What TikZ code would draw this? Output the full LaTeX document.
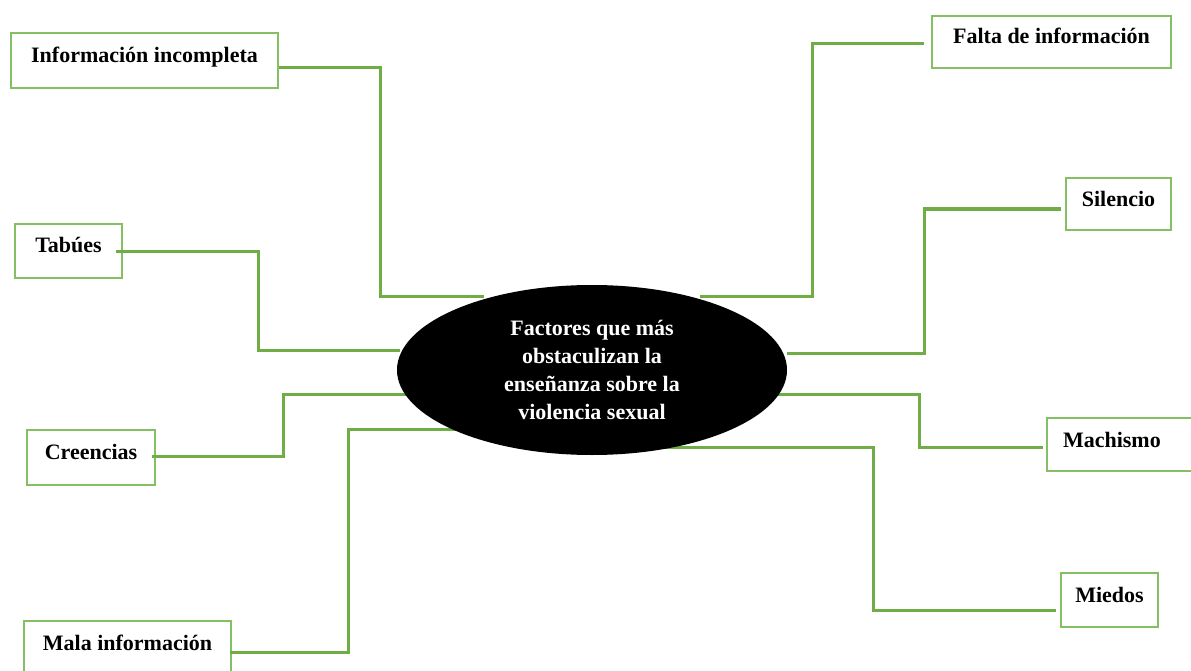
\documentclass[tikz,border=0pt]{standalone}
\usepackage{fontspec}
\setmainfont{Liberation Serif}
\usetikzlibrary{shapes.geometric}
\definecolor{connGreen}{HTML}{70AD47}
\definecolor{boxGreen}{HTML}{84BF63}
\tikzset{
  conn/.style={draw=connGreen, line width=3bp},
  itembox/.style={draw=boxGreen, line width=2bp, rectangle, inner sep=0pt,
    font=\fontsize{22bp}{28bp}\selectfont\bfseries},
  centre/.style={ellipse, fill=black, text=white, inner sep=0pt,
    minimum width=390bp, minimum height=170bp, align=center,
    font=\fontsize{22bp}{28bp}\selectfont\bfseries}
}
\begin{document}
\begin{tikzpicture}[x=1bp, y=-1bp]
\useasboundingbox (0,0) rectangle (1191,671);
% left boxes
\node[itembox, minimum width=267bp, text height=30bp, text depth=25bp] (info) at (144.5,60.5) {Información incompleta};
\node[itembox, minimum width=107bp, text height=28bp, text depth=26bp] (tab) at (68.5,251) {Tabúes};
\node[itembox, minimum width=128bp, text height=29bp, text depth=26bp] (cre) at (91,457.5) {Creencias};
\node[itembox, minimum width=207bp, text height=29bp, text depth=26bp] (mal) at (127.5,648.5) {Mala información};
% right boxes
\node[itembox, minimum width=239bp, text height=28bp, text depth=24bp] (fal) at (1051.5,42) {Falta de información};
\node[itembox, minimum width=105bp, text height=29bp, text depth=23bp] (sil) at (1118.5,204) {Silencio};
\node[itembox, text width=130bp, align=left, inner xsep=16bp, text height=29bp, text depth=24bp] (mac) at (1128,444.5) {Machismo};
\node[itembox, minimum width=97bp, text height=29bp, text depth=25bp] (mie) at (1109.5,600) {Miedos};
% ellipse end points
\coordinate (e1) at (484,296);
\coordinate (e2) at (400,350);
\coordinate (e3) at (415,394);
\coordinate (e4) at (468,429);
\coordinate (e5) at (700,296);
\coordinate (e6) at (787,353);
\coordinate (e7) at (773,394);
\coordinate (e8) at (665,447);
% connectors
\draw[conn] (info.east |- 0,68) -| (380,296) -- (e1);
\draw[conn] ([xshift=-7bp]tab.east |- 0,251) -| (258,350) -- (e2);
\draw[conn] ([xshift=-4bp]cre.east |- 0,456) -| (283,394) -- (e3);
\draw[conn] ([xshift=-2bp]mal.east |- 0,652) -| (348,429) -- (e4);
\draw[conn] ([xshift=-7bp]fal.west |- 0,44) -| (812,296) -- (e5);
\draw[conn] ([xshift=-4bp]sil.west |- 0,209) -| (924,353) -- (e6);
\draw[conn] ([xshift=-3bp]mac.west |- 0,447) -| (919,394) -- (e7);
\draw[conn] ([xshift=-4bp]mie.west |- 0,610) -| (873,447) -- (e8);
% centre
\node[centre] (c) at (592,370) {Factores que más\\obstaculizan la\\enseñanza sobre la\\violencia sexual};
\end{tikzpicture}
\end{document}
